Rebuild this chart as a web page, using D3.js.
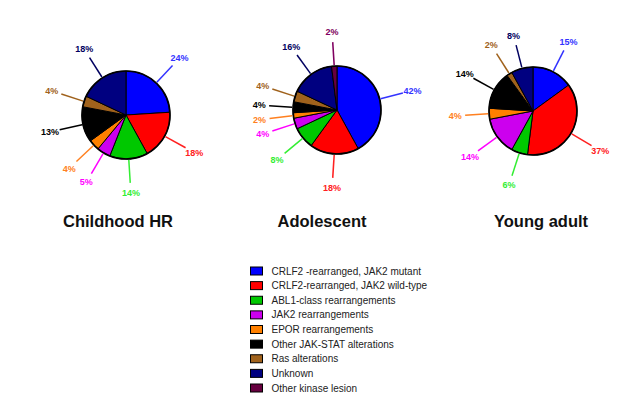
<!DOCTYPE html>
<html>
<head>
<meta charset="utf-8">
<script src="https://cdn.jsdelivr.net/npm/d3@7"></script>
<style>
  body { margin: 0; background: #fff; }
  svg { display: block; font-family: "Liberation Sans", Arial, sans-serif; }
</style>
</head>
<body>
<div class="container"></div>
<script>
// data
var categories = [
    "CRLF2 -rearranged, JAK2 mutant",
    "CRLF2-rearranged, JAK2 wild-type",
    "ABL1-class rearrangements",
    "JAK2 rearrangements",
    "EPOR rearrangements",
    "Other JAK-STAT alterations",
    "Ras alterations",
    "Unknown",
    "Other kinase lesion"
];
var groups = ["Childhood HR", "Adolescent", "Young adult"];
var childhoodValues  = [24, 18, 14, 5, 4, 13, 4, 18, 0];
var adolescentValues = [42, 18, 8, 4, 2, 4, 4, 16, 2];
var youngAdultValues = [15, 37, 6, 14, 4, 14, 2, 8, 0];

var sliceColors = ["#0000ff", "#ff0000", "#00c800", "#cc00ee", "#ff8000", "#000000", "#a0621c", "#000080", "#66003f"];
var labelColors = ["#3333ff", "#ff2020", "#33ee33", "#ff00ff", "#ff8020", "#000000", "#a0621c", "#000060", "#800060"];

var width = 640, height = 396;

var svg = d3.select(".container")
    .append("svg")
    .attr("width", width)
    .attr("height", height);

var pies = [
    { name: groups[0], values: childhoodValues, cx: 126, cy: 115, titleX: 118 },
    { name: groups[1], values: adolescentValues, cx: 337, cy: 110, titleX: 322 },
    { name: groups[2], values: youngAdultValues, cx: 533, cy: 111, titleX: 541 }
];
var r = 44;

var pie = d3.pie().sort(null).value(function (d) { return d; });
var arc = d3.arc().innerRadius(0).outerRadius(r);
var lineStart = d3.arc().innerRadius(r + 1).outerRadius(r + 1);
var lineEnd = d3.arc().innerRadius(r + 24).outerRadius(r + 24);
var labelArc = d3.arc().innerRadius(r + 34).outerRadius(r + 34);

pies.forEach(function (p) {
    var g = svg.append("g")
        .attr("transform", "translate(" + p.cx + "," + p.cy + ")");

    var arcs = pie(p.values).map(function (d, i) { d.idx = i; return d; })
        .filter(function (d) { return d.data > 0; });

    g.selectAll("path.slice")
        .data(arcs)
        .enter()
        .append("path")
        .attr("class", "slice")
        .attr("d", arc)
        .attr("fill", function (d) { return sliceColors[d.idx]; })
        .attr("stroke", "black")
        .attr("stroke-width", 1);

    g.append("circle")
        .attr("r", r)
        .attr("fill", "none")
        .attr("stroke", "black")
        .attr("stroke-width", 1.6);

    g.selectAll("line.leader")
        .data(arcs)
        .enter()
        .append("line")
        .attr("x1", function (d) { return lineStart.centroid(d)[0]; })
        .attr("y1", function (d) { return lineStart.centroid(d)[1]; })
        .attr("x2", function (d) { return lineEnd.centroid(d)[0]; })
        .attr("y2", function (d) { return lineEnd.centroid(d)[1]; })
        .attr("stroke", function (d) { return labelColors[d.idx]; })
        .attr("stroke-width", 1.5);

    g.selectAll("text.pct")
        .data(arcs)
        .enter()
        .append("text")
        .attr("x", function (d) { return labelArc.centroid(d)[0]; })
        .attr("y", function (d) { return labelArc.centroid(d)[1]; })
        .attr("dy", "0.35em")
        .attr("text-anchor", "middle")
        .style("font-size", "9px")
        .style("font-weight", "bold")
        .attr("fill", function (d) { return labelColors[d.idx]; })
        .text(function (d) { return d.data + "%"; });

    svg.append("text")
        .attr("x", p.titleX)
        .attr("y", 227)
        .attr("text-anchor", "middle")
        .style("font-size", "16.5px")
        .style("font-weight", "bold")
        .attr("fill", "#111")
        .text(p.name);
});

// legend
var legend = svg.append("g");
var rowY = d3.scalePoint().domain(categories).range([271, 388]);

legend.selectAll("rect")
    .data(categories)
    .enter()
    .append("rect")
    .attr("x", 250.5)
    .attr("y", function (d) { return rowY(d) - 4; })
    .attr("width", 12)
    .attr("height", 8)
    .attr("fill", function (d, i) { return sliceColors[i]; })
    .attr("stroke", "black")
    .attr("stroke-width", 1);

legend.selectAll("text")
    .data(categories)
    .enter()
    .append("text")
    .attr("x", 271.5)
    .attr("y", function (d) { return rowY(d); })
    .attr("dy", "0.35em")
    .style("font-size", "10px")
    .attr("fill", "#222")
    .text(function (d) { return d; });
</script>
</body>
</html>
